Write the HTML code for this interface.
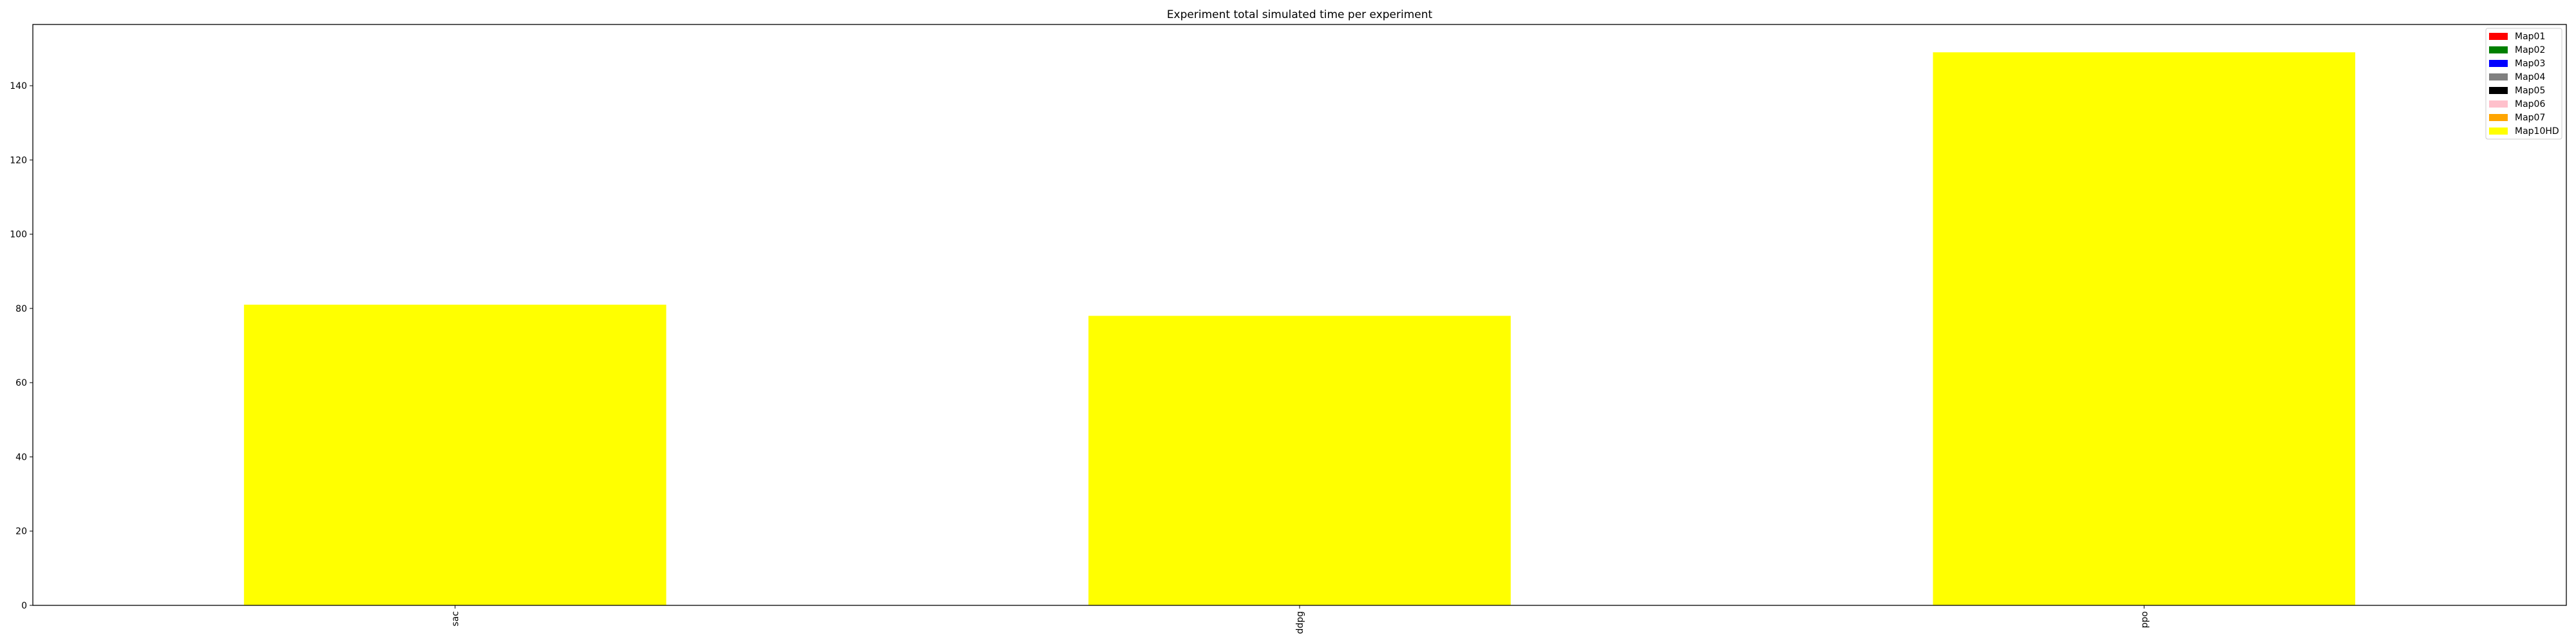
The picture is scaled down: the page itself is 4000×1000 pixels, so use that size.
<!DOCTYPE html>
<html><head><meta charset="utf-8"><style>
html,body{margin:0;padding:0;background:#fff;}
svg{display:block;font-family:"DejaVu Sans","Liberation Sans",sans-serif;}
</style></head><body>
<svg id="chart" width="4000" height="1000" xmlns="http://www.w3.org/2000/svg">
<rect x="0" y="0" width="4000" height="1000" fill="#fff"/>
<text x="2018" y="28" text-anchor="middle" font-size="17" fill="#000">Experiment total simulated time per experiment</text>
<g id="bars"></g>
<g id="yaxis"></g>
<g id="xaxis"></g>
<rect x="51" y="38" width="3934" height="902" fill="none" stroke="#000" stroke-width="1.3"/>
<g id="legend"></g>
</svg>
<script>
const categories = ["sac", "ddpg", "ppo"];
const seriesNames = ["Map01","Map02","Map03","Map04","Map05","Map06","Map07","Map10HD"];
const seriesColors = ["red","green","blue","gray","black","pink","orange","yellow"];
const map10hdValues = [81, 78, 149];
const yTicks = [0, 20, 40, 60, 80, 100, 120, 140];

const NS = "http://www.w3.org/2000/svg";
const L = 51, R = 3985, T = 38, B = 940;
const yMax = 156.5;
function yScale(v){ return B - v / yMax * (B - T); }
function xScale(i){ return L + (i + 0.5) / categories.length * (R - L); }
const bw = 0.5 / categories.length * (R - L);
function mk(tag, attrs, parent){
  const e = document.createElementNS(NS, tag);
  for (const k in attrs) e.setAttribute(k, attrs[k]);
  parent.appendChild(e);
  return e;
}
const bars = document.getElementById('bars');
map10hdValues.forEach((v, i) => {
  const r = mk('rect', {x: xScale(i) - bw/2, y: yScale(v), width: bw, height: B - yScale(v), fill: 'yellow'}, bars);
  
  
});
const ya = document.getElementById('yaxis');
yTicks.forEach(t => {
  const y = yScale(t);
  const l = mk('line', {x1: L - 5, x2: L, y1: y, y2: y, stroke: '#000', 'stroke-width': 1}, ya);
  
  
  const tx = mk('text', {x: L - 9, y: y + 5, 'text-anchor': 'end', 'font-size': 14, fill: '#000'}, ya);
  tx.textContent = t;
  
  
});
const xa = document.getElementById('xaxis');
categories.forEach((c, i) => {
  const x = xScale(i);
  const l = mk('line', {x1: x, x2: x, y1: B, y2: B + 5, stroke: '#000', 'stroke-width': 1}, xa);
  
  
  const tx = mk('text', {x: 0, y: 0, 'text-anchor': 'end', 'font-size': 14, fill: '#000', transform: `translate(${x + 5},${B + 9}) rotate(-90)`}, xa);
  tx.textContent = c;
  
  
});
const lg = document.getElementById('legend');
const box = mk('rect', {x: 3860, y: 44, width: 118, height: 172, rx: 3, fill: '#fff', 'fill-opacity': 0.8, stroke: '#ccc', 'stroke-width': 1}, lg);


seriesNames.forEach((n, i) => {
  const cy = 56 + i * 21;
  const g = mk('g', {}, lg);
  
  
  const sw = mk('rect', {x: 3865, y: cy - 5, width: 29, height: 11, fill: seriesColors[i]}, g);
  
  
  const tx = mk('text', {x: 3905, y: cy + 5, 'font-size': 14, fill: '#000'}, g);
  tx.textContent = n;
  
  
});
</script>
</body></html>
